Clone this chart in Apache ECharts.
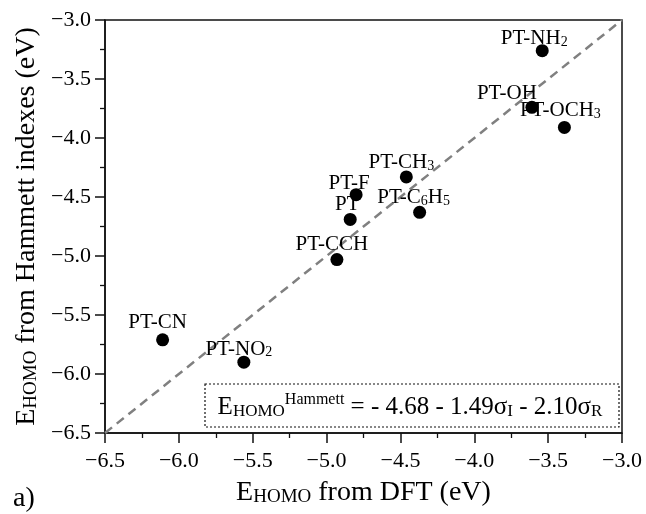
<!DOCTYPE html>
<html>
<head>
<meta charset="utf-8">
<script src="https://cdn.jsdelivr.net/npm/echarts@6/dist/echarts.min.js"></script>
<style>html,body{margin:0;padding:0;background:#fff}#c{width:646px;height:514px}</style>
</head>
<body>
<div id="c"></div>
<script>
// ---- data ----
var names = ['PT-NH2', 'PT-OH', 'PT-OCH3', 'PT-CH3', 'PT-F', 'PT-C6H5', 'PT', 'PT-CCH', 'PT-CN', 'PT-NO2'];
var dftValues = [-3.54, -3.61, -3.39, -4.46, -4.80, -4.37, -4.84, -4.93, -6.11, -5.56];
var hammettValues = [-3.26, -3.74, -3.91, -4.33, -4.48, -4.63, -4.69, -5.03, -5.71, -5.90];
var diagonal = [[-6.5, -6.5], [-3.0, -3.0]];
var axisMin = -6.5, axisMax = -3.0, axisStep = 0.5;
var xTitle = 'E{s|HOMO} from DFT (eV)';
var yTitle = 'E{s|HOMO} from Hammett indexes (eV)';
var equation = 'E{s|HOMO}{sup|Hammett} = - 4.68 - 1.49σ{s|I} - 2.10σ{s|R}';
var panelLabel = 'a)';
// label offsets (style only)
var labelOffsets = [[-8, 7], [-25, 5], [-4, 2], [-5, 5], [-7, 8], [-6, 4], [-3, 4], [-5, 4], [-5, 2], [-5, 6]];

var FONT = '"Liberation Serif", "DejaVu Serif", serif';
var pts = names.map(function (n, i) {
  return {
    value: [dftValues[i], hammettValues[i]],
    name: n,
    label: { offset: labelOffsets[i] }
  };
});
function fmt(v) { return v.toFixed(1).replace('-', '\u2212'); }
var ch = echarts.init(document.getElementById('c'), null, { renderer: 'canvas' });
var axisCommon = {
  type: 'value', min: axisMin, max: axisMax, interval: axisStep,
  axisLine: { show: true, onZero: false, lineStyle: { color: '#111', width: 1.5 } },
  axisTick: { show: true, inside: false, length: 10, lineStyle: { color: '#111', width: 1.5 } },
  minorTick: { show: true, splitNumber: 2, length: 5, lineStyle: { color: '#111', width: 1.3 } },
  splitLine: { show: false },
  axisLabel: { formatter: fmt, color: '#000', fontFamily: FONT, fontSize: 22 },
  nameLocation: 'middle',
  nameTextStyle: {
    fontFamily: FONT, fontSize: 28, color: '#000',
    rich: { s: { fontFamily: FONT, fontSize: 19, color: '#000', padding: [9, 0, 0, 0] } }
  }
};
ch.setOption({
  animation: false,
  backgroundColor: '#fff',
  grid: { left: 105, right: 24, top: 20, bottom: 81, show: true, borderColor: '#111', borderWidth: 1.5, backgroundColor: 'transparent' },
  xAxis: Object.assign({}, axisCommon, {
    name: xTitle, nameGap: 46,
    axisLabel: Object.assign({}, axisCommon.axisLabel, { margin: 17 })
  }),
  yAxis: Object.assign({}, axisCommon, {
    name: yTitle, nameGap: 60,
    axisLabel: Object.assign({}, axisCommon.axisLabel, { margin: 14 })
  }),
  graphic: [
    { type: 'rect', shape: { x: 205, y: 384, width: 414, height: 43 },
      style: { fill: 'none', stroke: '#111', lineWidth: 1.2, lineDash: [2, 2] }, z: 5 },
    { type: 'text', x: 410, y: 407, z: 6,
      style: {
        text: equation, fontFamily: FONT, fontSize: 25, fill: '#000',
        align: 'center', verticalAlign: 'middle',
        rich: {
          s: { fontFamily: FONT, fontSize: 17, fill: '#000', padding: [10, 0, 0, 0] },
          sup: { fontFamily: FONT, fontSize: 16, fill: '#000', padding: [0, 0, 14, 0] }
        }
      } },
    { type: 'text', x: 13, y: 485, style: { text: panelLabel, fontFamily: FONT, fontSize: 28, fill: '#000' } }
  ],
  series: [
    {
      type: 'line', data: diagonal, symbol: 'none', silent: true, z: 1,
      lineStyle: { color: '#808080', width: 2.5, type: [9, 6] }
    },
    {
      type: 'scatter', data: pts, symbol: 'circle', symbolSize: 13, z: 3,
      itemStyle: { color: '#000', opacity: 1 },
      label: {
        show: true, position: 'top', distance: 2,
        formatter: function (p) { return p.name.replace(/(\d)/g, '{s|$1}'); },
        fontFamily: FONT, fontSize: 21, color: '#000',
        rich: { s: { fontFamily: FONT, fontSize: 14, color: '#000', padding: [7, 0, 0, 0] } }
      }
    }
  ]
});
</script>
</body>
</html>
